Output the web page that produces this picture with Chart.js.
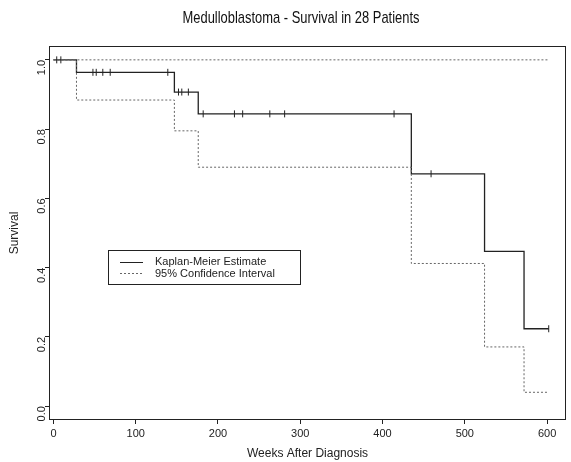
<!DOCTYPE html>
<html>
<head>
<meta charset="utf-8">
<script src="https://cdn.jsdelivr.net/npm/chart.js@4"></script>
<style>
  html, body { margin: 0; padding: 0; background: #fff; }
  #wrap { width: 571px; height: 462px; }
</style>
</head>
<body>
<div id="wrap"><canvas id="kmChart" width="571" height="462"></canvas></div>
<script>
// Kaplan-Meier estimate, steps at death times (weeks)
const kmTimes = [0, 28, 147, 176, 435, 524, 572, 602];
const kmSurvival = [1.0, 0.964, 0.907, 0.844, 0.671, 0.447, 0.2235, 0.2235];
const ciLower = [1.0, 0.884, 0.795, 0.690, 0.412, 0.171, 0.040, 0.040];
const ciUpper = [1.0, 1.0, 1.0, 1.0, 1.0, 1.0, 1.0, 1.0];

// censored observations (marked on the curve)
const censorTimes = [4, 9, 48, 52, 60, 69, 139, 152, 156, 164, 182, 220, 230, 263, 281, 414, 459, 602];
const censorSurvival = [1.0, 1.0, 0.964, 0.964, 0.964, 0.964, 0.964, 0.907, 0.907, 0.907,
                        0.844, 0.844, 0.844, 0.844, 0.844, 0.844, 0.671, 0.2235];

const xTicks = [0, 100, 200, 300, 400, 500, 600];
const yTicks = [0.0, 0.2, 0.4, 0.6, 0.8, 1.0];

const chartTitle = "Medulloblastoma - Survival in 28 Patients";
const seriesLabels = ["Kaplan-Meier Estimate", "95% Confidence Interval"];

const FONT = "'Liberation Sans', Arial, Helvetica, sans-serif";
const INK = "#222";

function toPoints(xs, ys) {
    return xs.map((x, i) => ({ x: x, y: ys[i] }));
}

// frame round the plot region
const framePlugin = {
    id: "frame",
    beforeDatasetsDraw(chart) {
        const a = chart.chartArea;
        const ctx = chart.ctx;
        ctx.save();
        ctx.strokeStyle = INK;
        ctx.lineWidth = 1;
        ctx.strokeRect(Math.round(a.left) + 0.5, Math.round(a.top) + 0.5,
            Math.round(a.right - a.left) - 1, Math.round(a.bottom - a.top) - 1);
        ctx.restore();
    }
};

// narrow (Helvetica Narrow look) title, squeezed horizontally
const narrowTitle = {
    id: "narrowTitle",
    afterDraw(chart) {
        const ctx = chart.ctx;
        ctx.save();
        ctx.translate(301, 18);
        ctx.scale(0.76, 1);
        ctx.font = "17px " + FONT;
        ctx.fillStyle = "#111";
        ctx.textAlign = "center";
        ctx.textBaseline = "middle";
        ctx.fillText(chartTitle, 0, 0);
        ctx.restore();
    }
};

// boxed legend inside the plot, like the R original
const boxLegend = {
    id: "boxLegend",
    afterDraw(chart) {
        const ctx = chart.ctx;
        const box = { x: 108, y: 250, w: 192, h: 34 };
        ctx.save();
        ctx.strokeStyle = INK;
        ctx.lineWidth = 1;
        ctx.strokeRect(box.x + 0.5, box.y + 0.5, box.w, box.h);

        // solid sample
        ctx.beginPath();
        ctx.moveTo(120, 262.5);
        ctx.lineTo(143, 262.5);
        ctx.strokeStyle = INK;
        ctx.stroke();
        // dotted sample
        ctx.beginPath();
        ctx.setLineDash([2, 2]);
        ctx.moveTo(120, 273.5);
        ctx.lineTo(143, 273.5);
        ctx.strokeStyle = "#666";
        ctx.stroke();
        ctx.setLineDash([]);

        ctx.fillStyle = INK;
        ctx.font = "11px " + FONT;
        ctx.textBaseline = "middle";
        ctx.textAlign = "left";
        ctx.fillText(seriesLabels[0], 155, 262);
        ctx.fillText(seriesLabels[1], 155, 273.5);
        ctx.restore();
    }
};

const ctx = document.getElementById("kmChart").getContext("2d");
new Chart(ctx, {
    type: "line",
    data: {
        datasets: [
            {
                label: "Upper CI",
                data: toPoints(kmTimes, ciUpper),
                stepped: "before",
                borderColor: "#666",
                borderWidth: 1,
                borderDash: [2, 2],
                pointRadius: 0,
                fill: false
            },
            {
                label: seriesLabels[1],
                data: toPoints(kmTimes, ciLower),
                stepped: "before",
                borderColor: "#666",
                borderWidth: 1,
                borderDash: [2, 2],
                pointRadius: 0,
                fill: false
            },
            {
                label: seriesLabels[0],
                data: toPoints(kmTimes, kmSurvival),
                stepped: "before",
                borderColor: INK,
                borderWidth: 1.3,
                pointRadius: 0,
                fill: false
            },
            {
                label: "Censored",
                data: toPoints(censorTimes, censorSurvival),
                showLine: false,
                pointStyle: "line",
                rotation: 90,
                pointRadius: 3.5,
                pointBorderWidth: 1,
                pointBorderColor: INK
            }
        ]
    },
    options: {
        responsive: false,
        animation: false,
        layout: { padding: { left: 0, right: 2, top: 46, bottom: 0 } },
        scales: {
            x: {
                type: "linear",
                min: -5.4,
                max: 623,
                afterBuildTicks: (scale) => { scale.ticks = xTicks.map(v => ({ value: v })); },
                afterFit: (scale) => { scale.height = 42; },
                ticks: {
                    color: INK,
                    font: { family: FONT, size: 11 },
                    padding: 3,
                    maxRotation: 0,
                    callback: (v) => String(v)
                },
                grid: { drawOnChartArea: false, drawTicks: true, tickLength: 4, color: INK },
                border: { display: false },
                title: {
                    display: true,
                    text: "Weeks After Diagnosis",
                    color: INK,
                    font: { family: FONT, size: 12 },
                    padding: { top: 0, bottom: 1.5 }
                }
            },
            y: {
                type: "linear",
                min: -0.04,
                max: 1.04,
                afterBuildTicks: (scale) => { scale.ticks = yTicks.map(v => ({ value: v })); },
                afterFit: (scale) => { scale.width = 49; },
                ticks: {
                    color: INK,
                    font: { family: FONT, size: 11 },
                    padding: 3,
                    minRotation: 90,
                    maxRotation: 90,
                    callback: (v) => Number(v).toFixed(1)
                },
                grid: { drawOnChartArea: false, drawTicks: true, tickLength: 4, color: INK },
                border: { display: false },
                title: {
                    display: true,
                    text: "Survival",
                    color: INK,
                    font: { family: FONT, size: 12 },
                    padding: { top: 7, bottom: 0 }
                }
            }
        },
        plugins: {
            legend: { display: false },
            tooltip: { enabled: false },
            title: { display: false }
        }
    },
    plugins: [framePlugin, narrowTitle, boxLegend]
});
</script>
</body>
</html>
